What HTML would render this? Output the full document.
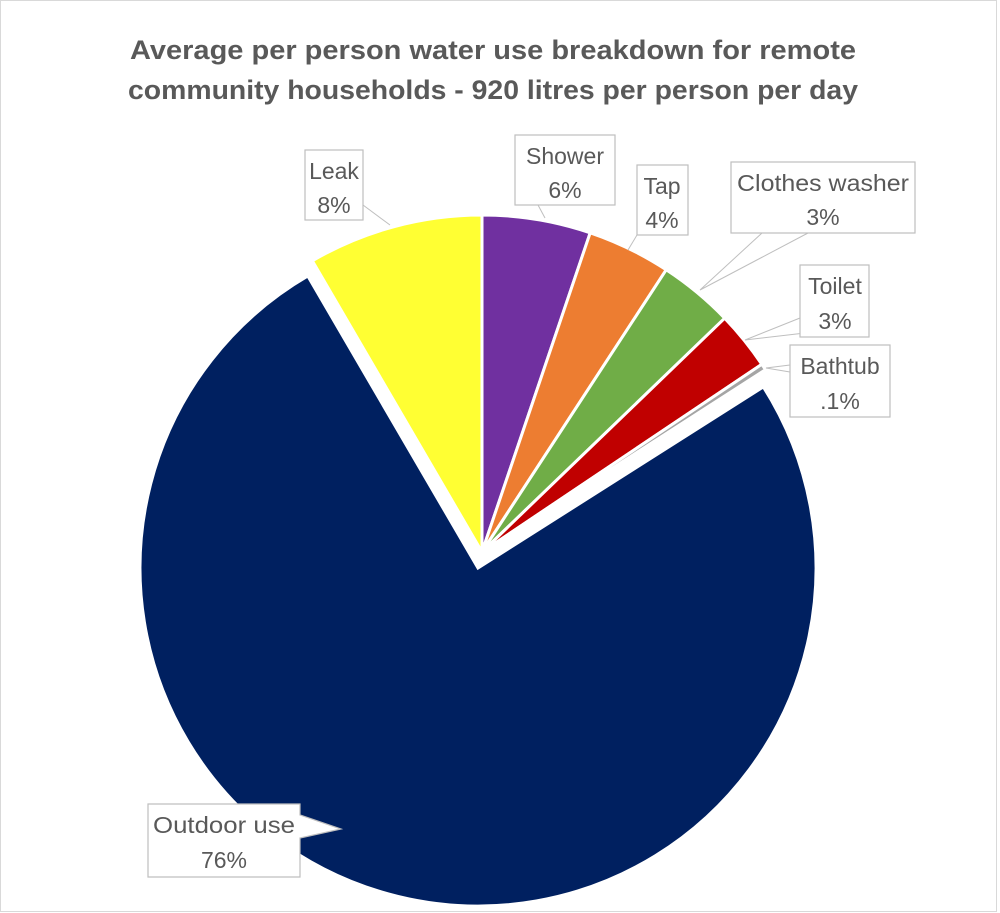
<!DOCTYPE html>
<html><head><meta charset="utf-8"><style>
html,body{margin:0;padding:0;background:#fff;}
svg{display:block;font-family:"Liberation Sans",sans-serif;}
</style></head><body>
<svg width="1000" height="913" viewBox="0 0 1000 913">
<rect x="0.5" y="0.5" width="996" height="911" fill="#fff" stroke="#d9d9d9"/>
<text x="493" y="59" text-anchor="middle" font-size="27" font-weight="bold" fill="#595959" textLength="726" lengthAdjust="spacingAndGlyphs">Average per person water use breakdown for remote</text>
<text x="493" y="99" text-anchor="middle" font-size="27" font-weight="bold" fill="#595959" textLength="730" lengthAdjust="spacingAndGlyphs">community households - 920 litres per person per day</text>
<g stroke="#fff" stroke-width="3" stroke-linejoin="miter">
<path d="M482,552 L482,215 A337,337 0 0 1 590.2,232.8 Z" fill="#7030a0"/>
<path d="M482,552 L590.2,232.8 A337,337 0 0 1 666.2,269.8 Z" fill="#ed7d31"/>
<path d="M482,552 L666.2,269.8 A337,337 0 0 1 724.7,318.2 Z" fill="#70ad47"/>
<path d="M482,552 L724.7,318.2 A337,337 0 0 1 761.8,364.3 Z" fill="#c00000"/>
<path d="M482,552 L761.8,364.3 A337,337 0 0 1 765.5,369.7 Z" fill="#a5a5a5"/>
<path d="M478,568 L763.4,386.9 A338,338 0 1 1 307.8,276.0 Z" fill="#002060"/>
<path d="M482,552 L312.3,260.8 A337,337 0 0 1 482,215 Z" fill="#ffff33"/>
</g>
<g stroke="#bfbfbf" stroke-width="1" fill="none">
<path d="M363,205 L390,225"/>
<path d="M538,205 L545,218"/>
<path d="M640,230 L628,250"/>
<path d="M762,233 L700,290 L808,233"/>
<path d="M800,318 L745,340 L805,333"/>
<path d="M790,365 L766,368 L790,372"/>
</g>
<g fill="#fff" stroke="#bfbfbf" stroke-width="1.2">
<rect x="305" y="150" width="58" height="70"/>
<rect x="515" y="135" width="100" height="70"/>
<rect x="637" y="165" width="51" height="70"/>
<rect x="731" y="162" width="184" height="71"/>
<rect x="800" y="265" width="69" height="72"/>
<rect x="790" y="345" width="100" height="72"/>
<path d="M148,804 L300,804 L300,815 L341,829 L300,838 L300,877 L148,877 Z"/>
</g>
<g font-size="23" fill="#595959" text-anchor="middle">
<text x="334" y="179">Leak</text><text x="334" y="213">8%</text>
<text x="565" y="164">Shower</text><text x="565" y="198">6%</text>
<text x="662" y="194">Tap</text><text x="662" y="228">4%</text>
<text x="823" y="191" textLength="172" lengthAdjust="spacingAndGlyphs">Clothes washer</text><text x="823" y="225">3%</text>
<text x="835" y="294">Toilet</text><text x="835" y="329">3%</text>
<text x="840" y="374">Bathtub</text><text x="840" y="409">.1%</text>
<text x="224" y="833" textLength="142" lengthAdjust="spacingAndGlyphs">Outdoor use</text><text x="224" y="868">76%</text>
</g>
</svg>
</body></html>
